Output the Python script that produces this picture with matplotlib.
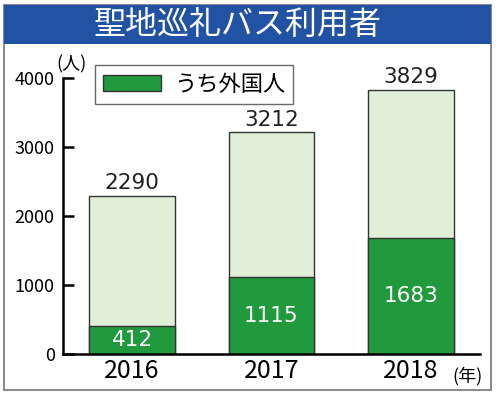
import matplotlib.pyplot as plt
from matplotlib.patches import Rectangle

plt.rcParams['font.family'] = ['Noto Sans CJK JP', 'DejaVu Sans']

years = ["2016", "2017", "2018"]
totals = [2290, 3212, 3829]
foreign = [412, 1115, 1683]
yticks = [0, 1000, 2000, 3000, 4000]

W, H = 500, 398
fig = plt.figure(figsize=(W / 100, H / 100), dpi=100)


def fx(px):
    return px / W


def fy(py):
    return 1 - py / H


# outer frame and title banner
fig.patches.append(Rectangle((fx(4), fy(390)), fx(487), (390 - 5) / H, transform=fig.transFigure,
                             facecolor="none", edgecolor="#8c8c8c", linewidth=1.5, zorder=-2))
fig.patches.append(Rectangle((fx(4), fy(44)), fx(487), 39 / H, transform=fig.transFigure,
                             facecolor="#2152a3", edgecolor="none", zorder=-1))
fig.text(fx(238), fy(25), "聖地巡礼バス利用者", color="white", fontsize=23,
         ha="center", va="center")

ax = fig.add_axes([fx(63), fy(354), fx(480 - 63), (354 - 78) / H])
ax.set_facecolor("none")
x = list(range(len(years)))
ax.bar(x, totals, width=0.61, color="#e1efd9", edgecolor="#333333", linewidth=1.0)
ax.bar(x, foreign, width=0.61, color="#21993d", edgecolor="#333333", linewidth=1.0,
       label="うち外国人")

for xi, t, f in zip(x, totals, foreign):
    ax.text(xi, t + 40, str(t), ha="center", va="bottom", fontsize=15.5, color="#222222",
            family="DejaVu Sans")
    ax.text(xi, f / 2, str(f), ha="center", va="center", fontsize=15.5, color="white",
            family="DejaVu Sans")

ax.set_xlim(-0.495, 2.495)
ax.set_ylim(0, 4000)
ax.set_yticks(yticks)
ax.set_xticks(x)
ax.set_xticklabels(years, fontsize=18)
ax.tick_params(axis="y", direction="in", length=8, width=1.8, labelsize=13, pad=6)
ax.tick_params(axis="x", length=0, pad=3)
for s in ["top", "right"]:
    ax.spines[s].set_visible(False)
ax.spines["left"].set_linewidth(1.8)
ax.spines["bottom"].set_linewidth(1.8)

leg = ax.legend(loc="upper left", bbox_to_anchor=((95 - 63) / 417, 1 + 13 / 276),
                borderaxespad=0, fontsize=16, frameon=True, fancybox=False,
                edgecolor="#444444", handlelength=2.6, handleheight=0.7,
                borderpad=0.35, handletextpad=0.6)
leg.get_frame().set_linewidth(1.0)

fig.text(fx(71), fy(64), "(人)", fontsize=13, ha="center", va="center")
fig.text(fx(467), fy(376), "(年)", fontsize=13, ha="center", va="center")

fig.savefig("out.png", dpi=100)
